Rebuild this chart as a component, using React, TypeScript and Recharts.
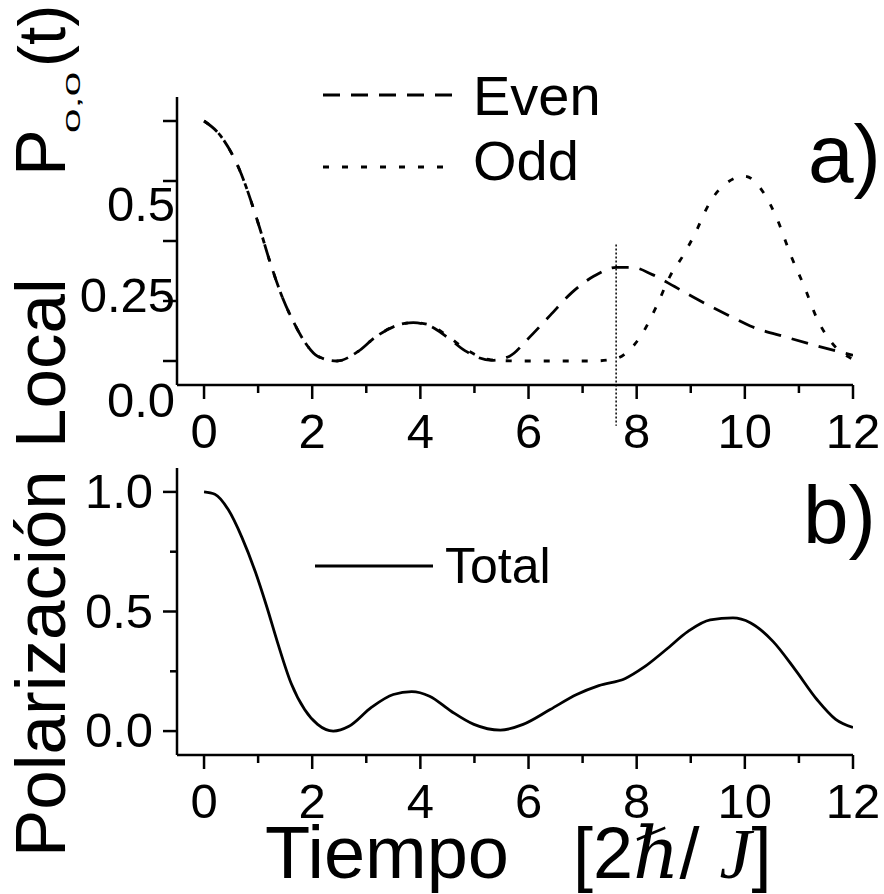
import { LineChart, Line, XAxis, YAxis, Legend, ReferenceLine } from 'recharts'

// panel a) local polarization, even / odd
const tEven = [0, 0.3, 0.65, 1.0, 1.23, 1.44, 1.65, 1.86, 2.1, 2.45, 2.85, 3.17, 3.59, 3.87, 4.17, 4.5, 4.83, 5.32, 5.65, 5.98, 6.4, 6.8, 7.22, 7.62, 7.92, 8.29, 8.7, 9.12, 9.7, 10.1, 10.77, 11.34, 12]
const pEven = [1.0, 0.94, 0.8, 0.575, 0.405, 0.27, 0.165, 0.08, 0.02, 0.0, 0.04, 0.1, 0.15, 0.16, 0.146, 0.099, 0.042, 0.003, 0.02, 0.09, 0.19, 0.285, 0.355, 0.39, 0.39, 0.36, 0.31, 0.257, 0.19, 0.146, 0.099, 0.0625, 0.024]

const tOdd = [0, 0.3, 0.65, 1.0, 1.23, 1.44, 1.65, 1.86, 2.1, 2.45, 2.85, 3.17, 3.59, 3.87, 4.17, 4.5, 4.83, 5.3, 5.8, 6.5, 7.2, 7.62, 7.84, 8.12, 8.37, 8.62, 8.86, 9.12, 9.28, 9.53, 10.0, 10.35, 10.6, 10.85, 11.1, 11.34, 11.6, 12]
const pOdd = [1.0, 0.94, 0.8, 0.575, 0.405, 0.27, 0.165, 0.08, 0.02, 0.0, 0.04, 0.1, 0.15, 0.16, 0.15, 0.105, 0.05, 0.005, 0.0, 0.0, 0.0, 0.01, 0.04, 0.12, 0.23, 0.355, 0.44, 0.55, 0.63, 0.715, 0.77, 0.7, 0.59, 0.44, 0.31, 0.174, 0.078, 0.007]

// panel b) total
const tTotal = [0, 0.2, 0.45, 0.7, 0.95, 1.16, 1.36, 1.61, 1.86, 2.1, 2.39, 2.68, 3.1, 3.5, 3.84, 4.17, 4.57, 4.99, 5.48, 5.9, 6.4, 6.89, 7.3, 7.79, 8.12, 8.54, 8.95, 9.36, 9.78, 10.1, 10.52, 10.93, 11.34, 11.68, 12]
const pTotal = [1.0, 0.99, 0.925, 0.81, 0.665, 0.52, 0.37, 0.2, 0.09, 0.028, 0.0, 0.02, 0.1, 0.153, 0.165, 0.146, 0.083, 0.028, 0.004, 0.028, 0.09, 0.153, 0.19, 0.22, 0.265, 0.34, 0.417, 0.465, 0.473, 0.453, 0.375, 0.257, 0.13, 0.049, 0.015]

const xTicks = [0, 1, 2, 3, 4, 5, 6, 7, 8, 9, 10, 11, 12]
const yTicks = [0, 0.25, 0.5, 0.75, 1]
const markerT = 7.62

const zip = (t: number[], v: number[]) => t.map((x, i) => ({ t: x, v: v[i] }))
const evenData = zip(tEven, pEven)
const oddData = zip(tOdd, pOdd)
const totalData = zip(tTotal, pTotal)

const FONT = '"Liberation Sans", Arial, sans-serif'
const SERIF = '"Liberation Serif", "DejaVu Serif", serif'
const dashes: Record<string, string> = { Even: '17 11', Odd: '6 13', Total: '' }

function XTick({ x, y, payload }: any) {
  const v = payload.value
  const major = v % 2 === 0
  return (
    <g>
      <line x1={x} x2={x} y1={y} y2={y + (major ? 14 : 8)} stroke="#000" strokeWidth={2.5} />
      {major && (
        <text x={x} y={y + 63} textAnchor="middle" fontSize={49} fontFamily={FONT} fill="#000">{v}</text>
      )}
    </g>
  )
}

// panel a labels sit off their ticks in the original
const aLabels: Record<string, [string, number]> = { '0': ['0.0', 56], '0.25': ['0.25', 11], '0.5': ['0.5', -20] }

function YTickA({ x, y, payload }: any) {
  const lab = aLabels[String(payload.value)]
  return (
    <g>
      <line x1={x} x2={x - 14} y1={y} y2={y} stroke="#000" strokeWidth={2.5} />
      {lab && (
        <text x={x - 2} y={y + lab[1]} textAnchor="end" fontSize={49} fontFamily={FONT} fill="#000">{lab[0]}</text>
      )}
    </g>
  )
}

function YTickB({ x, y, payload }: any) {
  const v = payload.value
  const major = v === 0 || v === 0.5 || v === 1
  return (
    <g>
      <line x1={x} x2={x - (major ? 14 : 7)} y1={y} y2={y} stroke="#000" strokeWidth={2.5} />
      {major && (
        <text x={x - 24} y={y + 16} textAnchor="end" fontSize={49} fontFamily={FONT} fill="#000">{v.toFixed(1)}</text>
      )}
    </g>
  )
}

function LegendA({ payload }: any) {
  return (
    <svg width={300} height={140}>
      {(payload || []).map((e: any, i: number) => (
        <g key={e.value}>
          <line x1={3} x2={136} y1={35 + i * 72} y2={35 + i * 72} stroke="#000" strokeWidth={3} strokeDasharray={dashes[e.value]} />
          <text x={153} y={55 + i * 65} fontSize={56} fontFamily={FONT} fill="#000">{e.value}</text>
        </g>
      ))}
    </svg>
  )
}

function LegendB({ payload }: any) {
  return (
    <svg width={300} height={90}>
      {(payload || []).map((e: any) => (
        <g key={e.value}>
          <line x1={15} x2={133} y1={36} y2={36} stroke="#000" strokeWidth={3} />
          <text x={145} y={53} fontSize={50} fontFamily={FONT} fill="#000">{e.value}</text>
        </g>
      ))}
    </svg>
  )
}

const axisLine = { stroke: '#000', strokeWidth: 2.5 }

export default function App() {
  return (
    <div style={{ position: 'absolute', left: 0, top: 0, width: 884, height: 894, background: '#fff' }}>
      <div style={{ position: 'absolute', left: 0, top: 0 }}>
        <LineChart width={884} height={465} margin={{ top: 97, right: 31, bottom: 50, left: 117 }}>
          <XAxis dataKey="t" type="number" domain={[-0.5, 12]} ticks={xTicks} interval={0} allowDataOverflow
            height={30} axisLine={axisLine} tickLine={false} tickSize={0} tickMargin={0} tick={<XTick />} />
          <YAxis type="number" domain={[-0.1, 1.1]} ticks={yTicks} interval={0} allowDataOverflow
            width={60} axisLine={axisLine} tickLine={false} tickSize={0} tickMargin={0} tick={<YTickA />} />
          <ReferenceLine segment={[{ x: markerT, y: 0.485 }, { x: markerT, y: -0.27 }]} ifOverflow="visible"
            stroke="#000" strokeWidth={1.5} strokeDasharray="2 2" />
          <Line data={evenData} dataKey="v" name="Even" type="monotone" stroke="#000" strokeWidth={2.8}
            strokeDasharray={dashes.Even} dot={false} isAnimationActive={false} />
          <Line data={oddData} dataKey="v" name="Odd" type="monotone" stroke="#000" strokeWidth={2.8}
            strokeDasharray={dashes.Odd} dot={false} isAnimationActive={false} />
          <Legend layout="vertical" align="center" verticalAlign="middle" content={<LegendA />}
            wrapperStyle={{ left: 320, top: 60, width: 300, height: 140 }} />
        </LineChart>
      </div>
      <div style={{ position: 'absolute', left: 0, top: 465 }}>
        <LineChart width={884} height={429} margin={{ top: 3, right: 31, bottom: 109, left: 117 }}>
          <XAxis dataKey="t" type="number" domain={[-0.5, 12]} ticks={xTicks} interval={0} allowDataOverflow
            height={30} axisLine={axisLine} tickLine={false} tickSize={0} tickMargin={0} tick={<XTick />} />
          <YAxis type="number" domain={[-0.1, 1.1]} ticks={yTicks} interval={0} allowDataOverflow
            width={60} axisLine={axisLine} tickLine={false} tickSize={0} tickMargin={0} tick={<YTickB />} />
          <Line data={totalData} dataKey="v" name="Total" type="monotone" stroke="#000" strokeWidth={2.8}
            dot={false} isAnimationActive={false} />
          <Legend layout="vertical" align="center" verticalAlign="middle" content={<LegendB />}
            wrapperStyle={{ left: 300, top: 65, width: 300, height: 90 }} />
        </LineChart>
      </div>
      <svg width={884} height={894} style={{ position: 'absolute', left: 0, top: 0, pointerEvents: 'none' }}>
        <g fontFamily={FONT} fill="#000">
          <text x={808} y={182} fontSize={82}>a)</text>
          <text x={803} y={543} fontSize={82}>b)</text>
          <text transform="translate(65,857) rotate(-90)" fontSize={71}>Polarización</text>
          <text transform="translate(65,448) rotate(-90)" fontSize={71}>Local</text>
          <text transform="translate(65,176) rotate(-90)" fontSize={70}>P</text>
          <text transform="translate(80,133) rotate(-90) scale(1,0.45)" fontSize={44}>0,0</text>
          <text transform="translate(65,67) rotate(-90)" fontSize={66}>(t)</text>
          <text x={265} y={878} fontSize={74}>Tiempo</text>
          <text x={573} y={878} fontSize={72}>
            <tspan>[2</tspan>
            <tspan fontFamily={SERIF} fontStyle="italic">ℏ</tspan>
            <tspan>/ </tspan>
            <tspan fontFamily={SERIF} fontStyle="italic">J</tspan>
            <tspan>]</tspan>
          </text>
        </g>
      </svg>
    </div>
  )
}
